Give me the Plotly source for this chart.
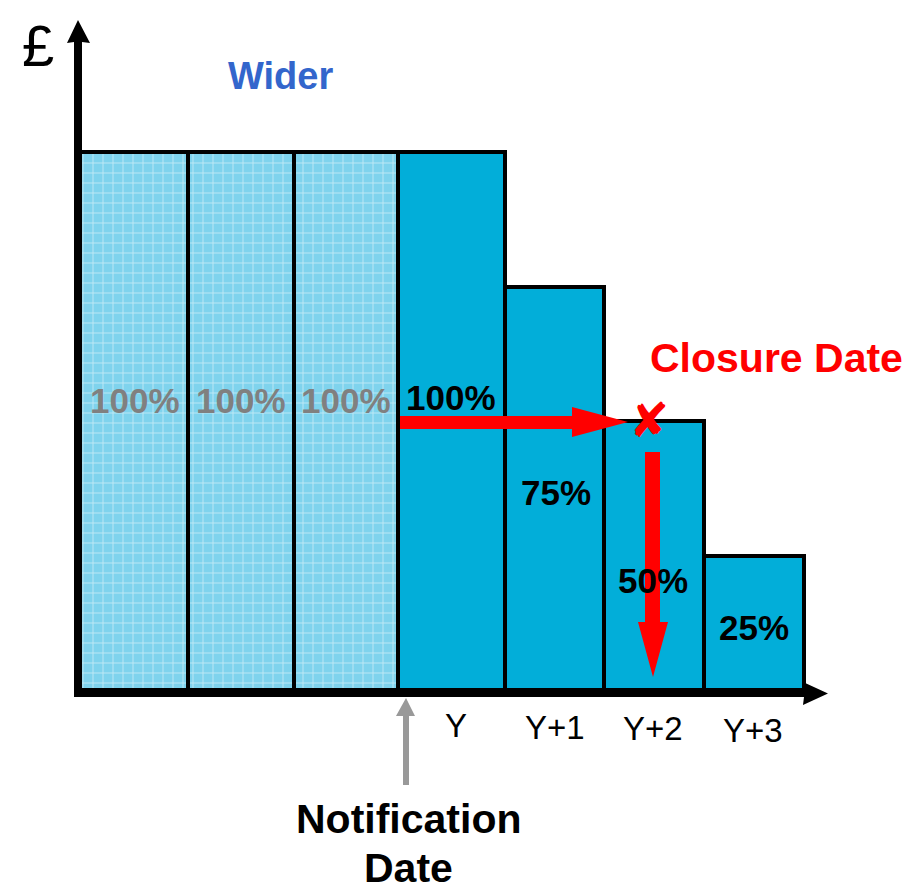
import plotly.graph_objects as go

# ---- data ----
period_labels = ["", "", "", "Y", "Y+1", "Y+2", "Y+3"]
percent_values = [100, 100, 100, 100, 75, 50, 25]
before_notification = [True, True, True, False, False, False, False]
bar_texts = ["100%", "100%", "100%", "100%", "75%", "50%", "25%"]

# ---- layout helpers (pixel geometry of the drawing) ----
OFF = 8  # default page body margin
W, H = 912 - OFF, 890 - OFF
bar_edges = [80, 188, 294, 398, 505, 604, 704, 804]
Y_BASE_PX, Y_TOP_PX = 690, 152  # pixel rows (window coords) of 0% and 100%
scale = 100 / (Y_BASE_PX - Y_TOP_PX)
y_hi = (Y_BASE_PX - OFF) * scale
y_lo = y_hi - H * scale

def px(x):
    return (x - OFF) / W

def py(y):
    return 1 - (y - OFF) / H

centers = [(a + b) / 2 - OFF for a, b in zip(bar_edges[:-1], bar_edges[1:])]
widths = [b - a for a, b in zip(bar_edges[:-1], bar_edges[1:])]

fig = go.Figure()

idx_pre = [i for i, f in enumerate(before_notification) if f]
idx_post = [i for i, f in enumerate(before_notification) if not f]

fig.add_trace(go.Bar(
    x=[centers[i] for i in idx_pre],
    y=[percent_values[i] for i in idx_pre],
    width=[widths[i] for i in idx_pre],
    marker=dict(
        color="#7fd3ed",
        line=dict(color="black", width=4),
        pattern=dict(shape="+", bgcolor="#7fd3ed", fgcolor="#ffffff", size=10, solidity=0.18),
    ),
    hoverinfo="skip",
    showlegend=False,
))
fig.add_trace(go.Bar(
    x=[centers[i] for i in idx_post],
    y=[percent_values[i] for i in idx_post],
    width=[widths[i] for i in idx_post],
    marker=dict(color="#02aed9", line=dict(color="black", width=4)),
    hoverinfo="skip",
    showlegend=False,
))

annotations = []
font_main = "Liberation Sans, Arial, sans-serif"

# percentage labels
label_pos = [(135, 400), (241, 400), (346, 400), (451, 397), (556, 492), (653, 580), (754, 627)]
for i, (t, (x, y)) in enumerate(zip(bar_texts, label_pos)):
    annotations.append(dict(
        x=px(x), y=py(y), xref="paper", yref="paper", text="<b>%s</b>" % t,
        showarrow=False, xanchor="center", yanchor="middle",
        font=dict(family=font_main, size=35, color="#808080" if before_notification[i] else "black"),
    ))

# period tick labels
tick_pos = [(456, 725), (555, 727), (653, 728), (753, 730)]
for t, (x, y) in zip([l for l in period_labels if l], tick_pos):
    annotations.append(dict(
        x=px(x), y=py(y), xref="paper", yref="paper", text=t, showarrow=False,
        xanchor="center", yanchor="middle", font=dict(family=font_main, size=33, color="black"),
    ))

annotations += [
    dict(x=px(38), y=py(45), xref="paper", yref="paper", text="£", showarrow=False,
         xanchor="center", yanchor="middle",
         font=dict(family=font_main, size=58, color="black")),
    dict(x=px(280), y=py(76), xref="paper", yref="paper", text="<b>Wider</b>", showarrow=False,
         xanchor="center", yanchor="middle", font=dict(family=font_main, size=38, color="#3366cc")),
    dict(x=px(776), y=py(358), xref="paper", yref="paper", text="<b>Closure Date</b>", showarrow=False,
         xanchor="center", yanchor="middle", font=dict(family=font_main, size=41, color="red")),
    dict(x=px(408), y=py(819), xref="paper", yref="paper", text="<b>Notification</b>", showarrow=False,
         xanchor="center", yanchor="middle", font=dict(family=font_main, size=41, color="black")),
    dict(x=px(408), y=py(868), xref="paper", yref="paper", text="<b>Date</b>", showarrow=False,
         xanchor="center", yanchor="middle", font=dict(family=font_main, size=41, color="black")),
    dict(x=px(649), y=py(420), xref="paper", yref="paper", text="✘", showarrow=False,
         xanchor="center", yanchor="middle", font=dict(family="DejaVu Sans", size=48, color="red")),
]

def poly(points, color):
    d = "M " + " L ".join("%.5f,%.5f" % (px(x), py(y)) for x, y in points) + " Z"
    return dict(type="path", path=d, xref="paper", yref="paper", fillcolor=color,
                line=dict(width=0), layer="above")

shapes = [
    # y axis
    poly([(74, 697), (82, 697), (82, 42), (90, 43), (78, 20), (67, 43), (74, 42)], "black"),
    # x axis
    poly([(74, 690), (804, 690), (803, 682), (828, 693.5), (803, 705), (804, 697), (74, 697)], "black"),
    # red horizontal arrow
    poly([(400, 416), (572, 416), (572, 407), (628, 422), (572, 437), (572, 429), (400, 429)], "red"),
    # red vertical arrow
    poly([(645, 452), (660, 452), (660, 622), (668, 622), (653, 677), (638, 622), (645, 622)], "red"),
    # gray notification arrow
    poly([(403, 785), (409, 785), (409, 716), (415, 716), (406, 698), (396, 716), (403, 716)], "#999999"),
]

fig.update_layout(
    width=W, height=H,
    margin=dict(l=0, r=0, t=0, b=0),
    paper_bgcolor="white", plot_bgcolor="white",
    xaxis=dict(range=[0, W], visible=False, fixedrange=True),
    yaxis=dict(range=[y_lo, y_hi], visible=False, fixedrange=True),
    bargap=0, barmode="overlay",
    annotations=annotations, shapes=shapes,
)

fig.write_html("out.html")
